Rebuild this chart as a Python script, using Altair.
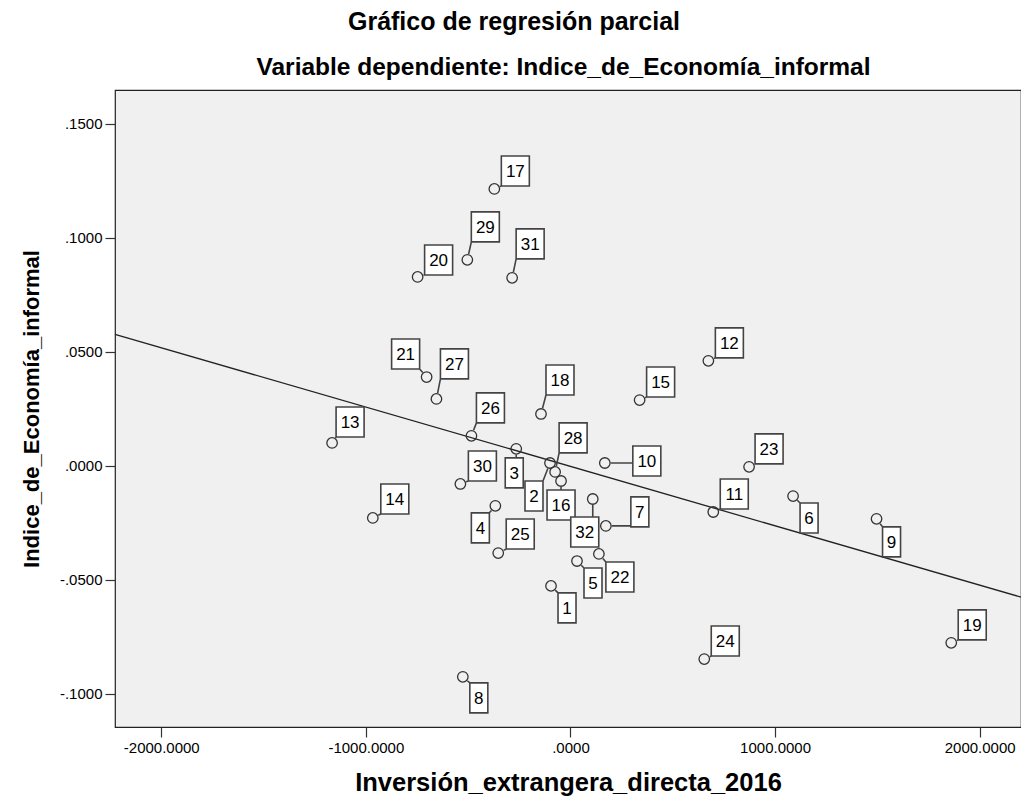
import math
import altair as alt
import pandas as pd

# ---------------- data ----------------
case_ids = list(range(1, 33))
fdi_resid = [-95, -100, -265, -367, 32, 1088, 173, -526, 1496, 168,
             698, 674, -1165, -966, 338, -46, -372, -144, 1861, -747,
             -703, 139, 873, 654, -353, -484, -655, -75, -504, -538,
             -285, 109]
informal_resid = [-0.0526, 0.0013, 0.0075, -0.0175, -0.0417, -0.0132, -0.0263,
                  -0.0925, -0.0232, 0.0013, -0.0202, 0.0461, 0.0101, -0.0228,
                  0.0289, -0.0066, 0.1215, 0.0228, -0.0776, 0.0829, 0.0390,
                  -0.0386, -0.0004, -0.0847, -0.0382, 0.0132, 0.0294, -0.0026,
                  0.0904, -0.0079, 0.0825, -0.0145]
x_ticks = [-2000, -1000, 0, 1000, 2000]
y_ticks = [-0.10, -0.05, 0.0, 0.05, 0.10, 0.15]

# ---------------- layout (label box placement, pixels from point) ----------------
label_offsets = [(16, 22), (-16, 33), (-2, 24), (-15, 22), (16, 22), (16, 22),
                 (34, -14), (16, 21), (15, 23), (42, -2), (21, -18), (21, -18),
                 (18, -21), (22, -19), (21, -18), (0, 24), (21, -18), (19, -34),
                 (21, -18), (21, -17), (-21, -23), (21, 23), (20, -18), (21, -18),
                 (22, -19), (19, -28), (18, -35), (18, -34), (18, -33), (22, -18),
                 (18, -34), (-8, 33)]
X_DOMAIN = [-2226, 2202]
Y_DOMAIN = [-0.1145, 0.1649]
FONT = "Liberation Sans"


def label_path(dx, dy, w, h, r=6.0):
    x0, x1 = dx - w / 2, dx + w / 2
    y0, y1 = dy - h / 2, dy + h / 2
    px = min(max(0.0, x0), x1)
    py = min(max(0.0, y0), y1)
    d = math.hypot(px, py)
    parts = []
    if d > r + 0.5:
        sx, sy = px / d * r, py / d * r
        parts.append(f"M{sx:.2f},{sy:.2f}L{px:.2f},{py:.2f}")
    parts.append(f"M{x0:.2f},{y0:.2f}L{x1:.2f},{y0:.2f}L{x1:.2f},{y1:.2f}L{x0:.2f},{y1:.2f}Z")
    return "".join(parts)


rows = []
for cid, xv, yv, (dx, dy) in zip(case_ids, fdi_resid, informal_resid, label_offsets):
    w = 28 if cid >= 10 else 18
    rows.append({"case": cid, "x": xv, "y": yv, "label": str(cid),
                 "path": label_path(dx, dy, w, 30)})
df = pd.DataFrame(rows)

label_expr = ("(datum.value < 0 ? '-' : '') + (abs(datum.value) < 1 ? "
              "substring(format(abs(datum.value), '.4f'), 1) : format(abs(datum.value), '.4f'))")

x_scale = alt.Scale(domain=X_DOMAIN, nice=False, zero=False)
y_scale = alt.Scale(domain=Y_DOMAIN, nice=False, zero=False)

x_axis_bottom = alt.Axis(values=x_ticks, labelExpr=label_expr, grid=False, domain=False,
                         tickSize=10, tickColor="#333", tickWidth=1.2,
                         labelFont=FONT, labelFontSize=15, labelColor="#000", labelPadding=3,
                         titleFont=FONT, titleFontSize=25.5, titleFontWeight="bold",
                         titleColor="#000", titlePadding=15)
x_axis_top = alt.Axis(orient="top", labels=False, ticks=False, domain=False, grid=False,
                      titleFont=FONT, titleFontSize=24.5, titleFontWeight="bold",
                      titleColor="#000", titlePadding=11, titleX=448)
y_axis = alt.Axis(values=y_ticks, labelExpr=label_expr, grid=False, domain=False,
                  tickSize=10, tickColor="#333", tickWidth=1.2,
                  labelFont=FONT, labelFontSize=15, labelColor="#000", labelPadding=3,
                  titleFont=FONT, titleFontSize=22, titleFontWeight="bold",
                  titleColor="#000", titlePadding=16)

x_plain = alt.X("x:Q", scale=x_scale, axis=None)
y_full = alt.Y("y:Q", scale=y_scale, axis=y_axis, title="Indice_de_Economía_informal")

base = alt.Chart(df)

reg_line = base.transform_regression("x", "y", method="linear", extent=X_DOMAIN).mark_line(
    color="#222", strokeWidth=1.3).encode(
    x=alt.X("x:Q", scale=x_scale, axis=x_axis_bottom, title="Inversión_extrangera_directa_2016"),
    y=y_full)

boxes = base.mark_point(filled=True, fill="white", stroke="#444", strokeWidth=1.6,
                        size=4, opacity=1).encode(
    x=alt.X("x:Q", scale=x_scale, axis=x_axis_top,
            title="Variable dependiente: Indice_de_Economía_informal"),
    y=y_full, shape=alt.Shape("path:N", scale=None, legend=None))

circles = base.mark_point(shape="circle", filled=False, color="#333", strokeWidth=1.3,
                          size=110, opacity=1).encode(x=x_plain, y=y_full)

text_layers = []
for cid, (dx, dy) in zip(case_ids, label_offsets):
    text_layers.append(
        base.transform_filter(alt.datum.case == cid).mark_text(
            font=FONT, fontSize=17, color="#000", align="center", baseline="middle",
            dx=dx, dy=dy + 1).encode(x=x_plain, y=y_full, text="label:N"))

chart = alt.layer(reg_line, boxes, circles, *text_layers).resolve_axis(
    x="independent"
).properties(
    width=906, height=637,
    autosize=alt.AutoSizeParams(type="none"),
    padding={"left": 107, "top": 82, "right": 0, "bottom": 70},
    view=alt.ViewBackground(fill="#f0f0f0", stroke="#222", strokeWidth=1.2),
    title=alt.TitleParams(
        text="Gráfico de regresión parcial",
        font=FONT, fontSize=25, fontWeight="bold", color="#000",
        anchor="middle", frame="group", dx=-54, offset=19),
).configure_view(stroke="#222", strokeWidth=1.2, fill="#f0f0f0").configure(background="white")

chart.save("out.html", embed_options={"renderer": "svg", "actions": False})
